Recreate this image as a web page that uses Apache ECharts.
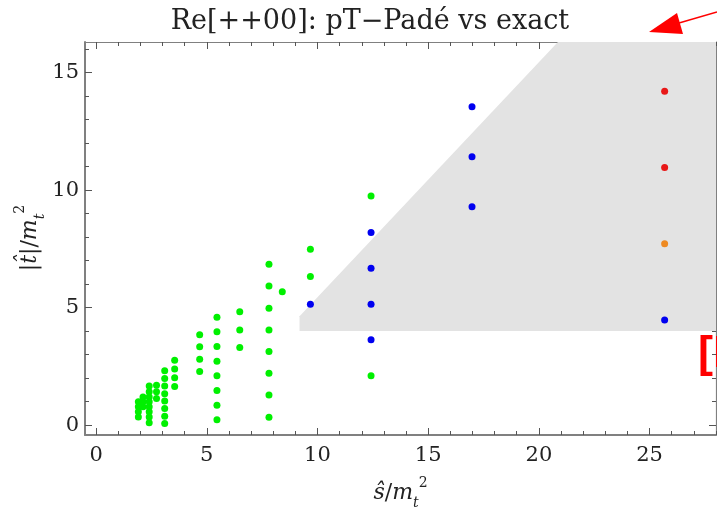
<!DOCTYPE html>
<html>
<head>
<meta charset="utf-8">
<script src="https://cdn.jsdelivr.net/npm/echarts@6/dist/echarts.min.js"></script>
<style>html,body{margin:0;padding:0;background:#fff}#c{width:717px;height:509px}</style>
</head>
<body>
<div id="c"></div>
<script>
// ---- data ----
var titleText = 'Re[++00]: pT\u2212Pad\u00e9 vs exact';
var xAxisTitle = '{i|\u015d}{n|/}{i|m}{sub|t}{sup|2}';
var yAxisTitle = '{n||}{i|t\u0302}{n||/}{i|m}{sub|t}{sup|2}';
var xMajorTicks = [0, 5, 10, 15, 20, 25];
var xMinorTicks = [0,1,2,3,4,5,6,7,8,9,10,11,12,13,14,15,16,17,18,19,20,21,22,23,24,25,26,27,28];
var yMajorTicks = [0, 5, 10, 15];
var yMinorTicks = [0,1,2,3,4,5,6,7,8,9,10,11,12,13,14,15,16];
var greenPoints = [
  [1.91,0.99],[1.91,0.78],[1.91,0.57],[1.91,0.35],
  [2.12,1.20],[2.12,0.99],[2.12,0.78],
  [2.40,1.66],[2.40,1.42],[2.40,1.20],[2.40,0.99],[2.40,0.78],[2.40,0.57],[2.40,0.35],[2.40,0.10],
  [2.73,1.70],[2.73,1.42],[2.73,1.13],
  [3.10,2.31],[3.10,1.98],[3.10,1.66],[3.10,1.34],[3.10,1.03],[3.10,0.71],[3.10,0.38],[3.10,0.07],
  [3.55,2.76],[3.55,2.39],[3.55,2.02],[3.55,1.64],
  [4.68,3.84],[4.68,3.33],[4.68,2.80],[4.68,2.28],
  [5.46,4.59],[5.46,3.97],[5.46,3.34],[5.46,2.72],[5.46,2.10],[5.46,1.47],[5.46,0.85],[5.46,0.23],
  [6.49,4.82],[6.49,4.05],[6.49,3.30],
  [7.81,6.84],[7.81,5.92],[7.81,4.97],[7.81,4.05],[7.81,3.13],[7.81,2.21],[7.81,1.28],[7.81,0.34],
  [8.41,5.67],
  [9.68,7.48],[9.68,6.32],
  [12.42,9.75],[12.42,2.10]
];
var bluePoints = [
  [9.68,5.14],
  [12.42,8.20],[12.42,6.67],[12.42,5.14],[12.42,3.63],
  [16.98,13.54],[16.98,11.42],[16.98,9.29],
  [25.68,4.47]
];
var redPoints = [[25.68,14.21],[25.68,10.96]];
var orangePoints = [[25.68,7.72]];
var shadedRegion = [[9.19,4.0],[9.19,4.63],[21.0,16.44],[30,16.44],[30,4.0]];

// ---- chart ----
var X_MIN = -0.5, X_MAX = 28, Y_MIN = -0.42, Y_MAX = 16.3;
var frameColor = '#808080';
var serif = '"DejaVu Serif", "Liberation Serif", serif';
var richStyles = {
  i: {fontFamily: serif, fontStyle: 'italic', fontSize: 22, fill: '#222', color: '#222', lineHeight: 34, verticalAlign: 'middle'},
  n: {fontFamily: serif, fontSize: 22, fill: '#222', color: '#222', lineHeight: 34, verticalAlign: 'middle'},
  sub: {fontFamily: serif, fontStyle: 'italic', fontSize: 14, fill: '#222', color: '#222', lineHeight: 34, verticalAlign: 'bottom'},
  sup: {fontFamily: serif, fontSize: 14, fill: '#222', color: '#222', lineHeight: 34, verticalAlign: 'top'}
};

function xAxisDef(pos, vals, len, showLabel, showLine) {
  return {
    type: 'value', position: pos, min: X_MIN, max: X_MAX,
    axisLine: {show: showLine, onZero: false, lineStyle: {color: frameColor, width: pos === 'bottom' ? 2 : 1.2}},
    axisTick: {show: true, inside: true, length: len, customValues: vals, lineStyle: {color: '#555', width: 1}},
    axisLabel: showLabel ? {show: true, customValues: xMajorTicks, fontFamily: serif, fontSize: 21, color: '#222', margin: 10} : {show: false},
    splitLine: {show: false},
    name: showLabel ? xAxisTitle : '',
    nameLocation: 'middle', nameGap: 41,
    nameTextStyle: {fontFamily: serif, fontSize: 22, color: '#222', rich: richStyles}
  };
}
function yAxisDef(pos, vals, len, showLabel, showLine) {
  return {
    type: 'value', position: pos, min: Y_MIN, max: Y_MAX,
    axisLine: {show: showLine, onZero: false, lineStyle: {color: frameColor, width: pos === 'left' ? 2 : 1.2}},
    axisTick: {show: true, inside: true, length: len, customValues: vals, lineStyle: {color: '#555', width: 1}},
    axisLabel: showLabel ? {show: true, customValues: yMajorTicks, fontFamily: serif, fontSize: 21, color: '#222', margin: 6} : {show: false},
    splitLine: {show: false}
  };
}

var chart = echarts.init(document.getElementById('c'), null, {renderer: 'canvas'});
var dot = function (name, data, color) {
  return {name: name, type: 'scatter', xAxisIndex: 0, yAxisIndex: 0, data: data,
    symbol: 'circle', symbolSize: 7, itemStyle: {color: color, opacity: 1}, z: 5, silent: true};
};
chart.setOption({
  animation: false,
  backgroundColor: '#ffffff',
  title: {
    text: titleText, left: 365, top: 3, textAlign: 'center',
    textStyle: {fontFamily: serif, fontWeight: 'normal', fontSize: 27, color: '#222'}
  },
  grid: {left: 85, right: 1, top: 42, bottom: 74, containLabel: false, outerBoundsMode: 'none'},
  xAxis: [
    xAxisDef('bottom', xMajorTicks, 7, true, true),
    xAxisDef('bottom', xMinorTicks, 4, false, false),
    xAxisDef('top', xMajorTicks, 7, false, true),
    xAxisDef('top', xMinorTicks, 4, false, false)
  ],
  yAxis: [
    yAxisDef('left', yMajorTicks, 7, true, true),
    yAxisDef('left', yMinorTicks, 4, false, false),
    yAxisDef('right', yMajorTicks, 7, false, true),
    yAxisDef('right', yMinorTicks, 4, false, false)
  ],
  series: [
    {
      type: 'custom', xAxisIndex: 0, yAxisIndex: 0, clip: true, silent: true, z: 1,
      data: [0],
      renderItem: function (params, api) {
        var pts = shadedRegion.map(function (p) { return api.coord(p); });
        return {type: 'polygon', shape: {points: pts}, style: {fill: '#e3e3e3'}};
      }
    },
    dot('green', greenPoints, '#00f000'),
    dot('blue', bluePoints, '#0000f0'),
    dot('red', redPoints, '#e81818'),
    dot('orange', orangePoints, '#ee8a22')
  ],
  graphic: [
    {type: 'text', x: 30, y: 238, rotation: Math.PI / 2,
      style: {text: yAxisTitle, rich: richStyles, align: 'center', verticalAlign: 'middle', fill: '#222', font: '22px ' + serif}, z: 20},
    {type: 'polygon', shape: {points: [[649,32],[677,13],[683,34]]}, style: {fill: '#ff0000'}, z: 20},
    {type: 'line', shape: {x1: 679, y1: 23, x2: 717, y2: 12}, style: {stroke: '#ff0000', lineWidth: 1.5}, z: 20},
    {type: 'text', left: 698, top: 332, style: {text: '[P', fill: '#ff0000', font: 'bold 45px "Liberation Sans", sans-serif'}, z: 20}
  ]
});
</script>
</body>
</html>
